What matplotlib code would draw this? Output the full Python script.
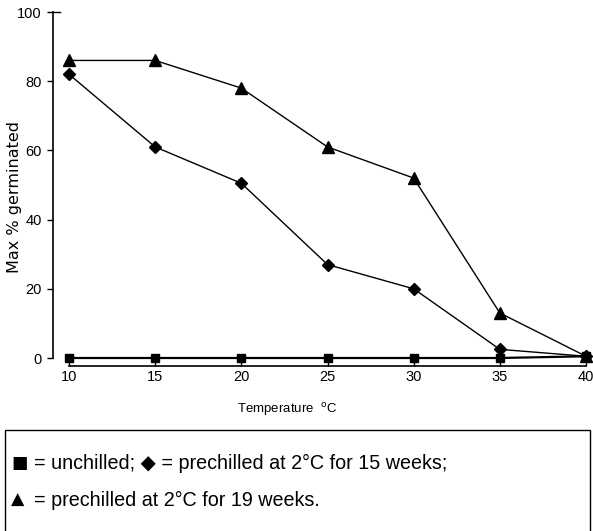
import matplotlib
matplotlib.use("Agg")
import matplotlib.pyplot as plt
from matplotlib.patches import Rectangle

plt.rcParams['font.family'] = ['Liberation Sans', 'DejaVu Sans']

temps = [10, 15, 20, 25, 30, 35, 40]
unchilled = [0, 0, 0, 0, 0, 0, 0.5]
chilled_15 = [82, 61, 50.5, 27, 20, 2.5, 0.5]
chilled_19 = [86, 86, 78, 61, 52, 13, 0.5]
yticks = [0, 20, 40, 60, 80, 100]

W, H = 593, 531
fig = plt.figure(figsize=(W / 100, H / 100), dpi=100)
ax = fig.add_axes([53 / W, 1 - 358 / H, (586 - 53) / W, (358 - 12) / H])

ax.plot(temps, unchilled, color='black', lw=1.6, marker='s', ms=6, clip_on=False, zorder=3)
ax.plot(temps, chilled_15, color='black', lw=1.0, marker='D', ms=6, clip_on=False, zorder=3)
ax.plot(temps, chilled_19, color='black', lw=1.0, marker='^', ms=8, clip_on=False, zorder=3)

ax.set_xlim(9.07, 40)
ax.set_ylim(0, 100)
for s in ['top', 'right']:
    ax.spines[s].set_visible(False)
ax.spines['bottom'].set_position(('outward', 5.5))
ax.spines['bottom'].set_bounds(10, 40)
ax.spines['left'].set_linewidth(1.2)
ax.spines['bottom'].set_linewidth(1.2)
ax.set_xticks(temps)
ax.set_xticklabels([str(t) for t in temps])
ax.set_yticks(yticks)
ax.set_yticklabels([str(v) for v in yticks])
ax.tick_params(axis='x', direction='in', length=5, width=1.0, labelsize=10.5, pad=3)
ax.tick_params(axis='y', direction='out', length=4, width=1.0, labelsize=10.5, pad=4)
ax.plot([9.07, 9.45], [100, 100], color='black', lw=1.0, clip_on=False)

ax.set_ylabel('Max % germinated', fontsize=11.5, family=['DejaVu Sans'])
ax.yaxis.set_label_coords(-(53 - 22) / (586 - 53), (358 - 197) / 346)
fig.text(287 / W, 1 - 410 / H, r'Temperature  $^{\rm o}$C', fontsize=9.5, ha='center', va='center')

fig.patches.append(Rectangle((5 / W, -0.02), (590 - 5) / W, 1 - 430 / H + 0.02,
                             transform=fig.transFigure, fill=False, ec='black', lw=1.0))
fig.text(11 / W, 1 - 463 / H, '■', fontsize=12.5, ha='left', va='center',
         family=['DejaVu Sans'])
fig.text(34 / W, 1 - 463 / H, '= unchilled; ◆ = prechilled at 2°C for 15 weeks;',
         fontsize=14.2, ha='left', va='center', family=['Liberation Sans', 'DejaVu Sans'])
fig.text(11 / W, 1 - 500 / H, '▲', fontsize=12.5, ha='left', va='center',
         family=['DejaVu Sans'])
fig.text(34 / W, 1 - 500 / H, '= prechilled at 2°C for 19 weeks.',
         fontsize=14.2, ha='left', va='center', family=['Liberation Sans', 'DejaVu Sans'])

fig.savefig('out.png', dpi=100)
